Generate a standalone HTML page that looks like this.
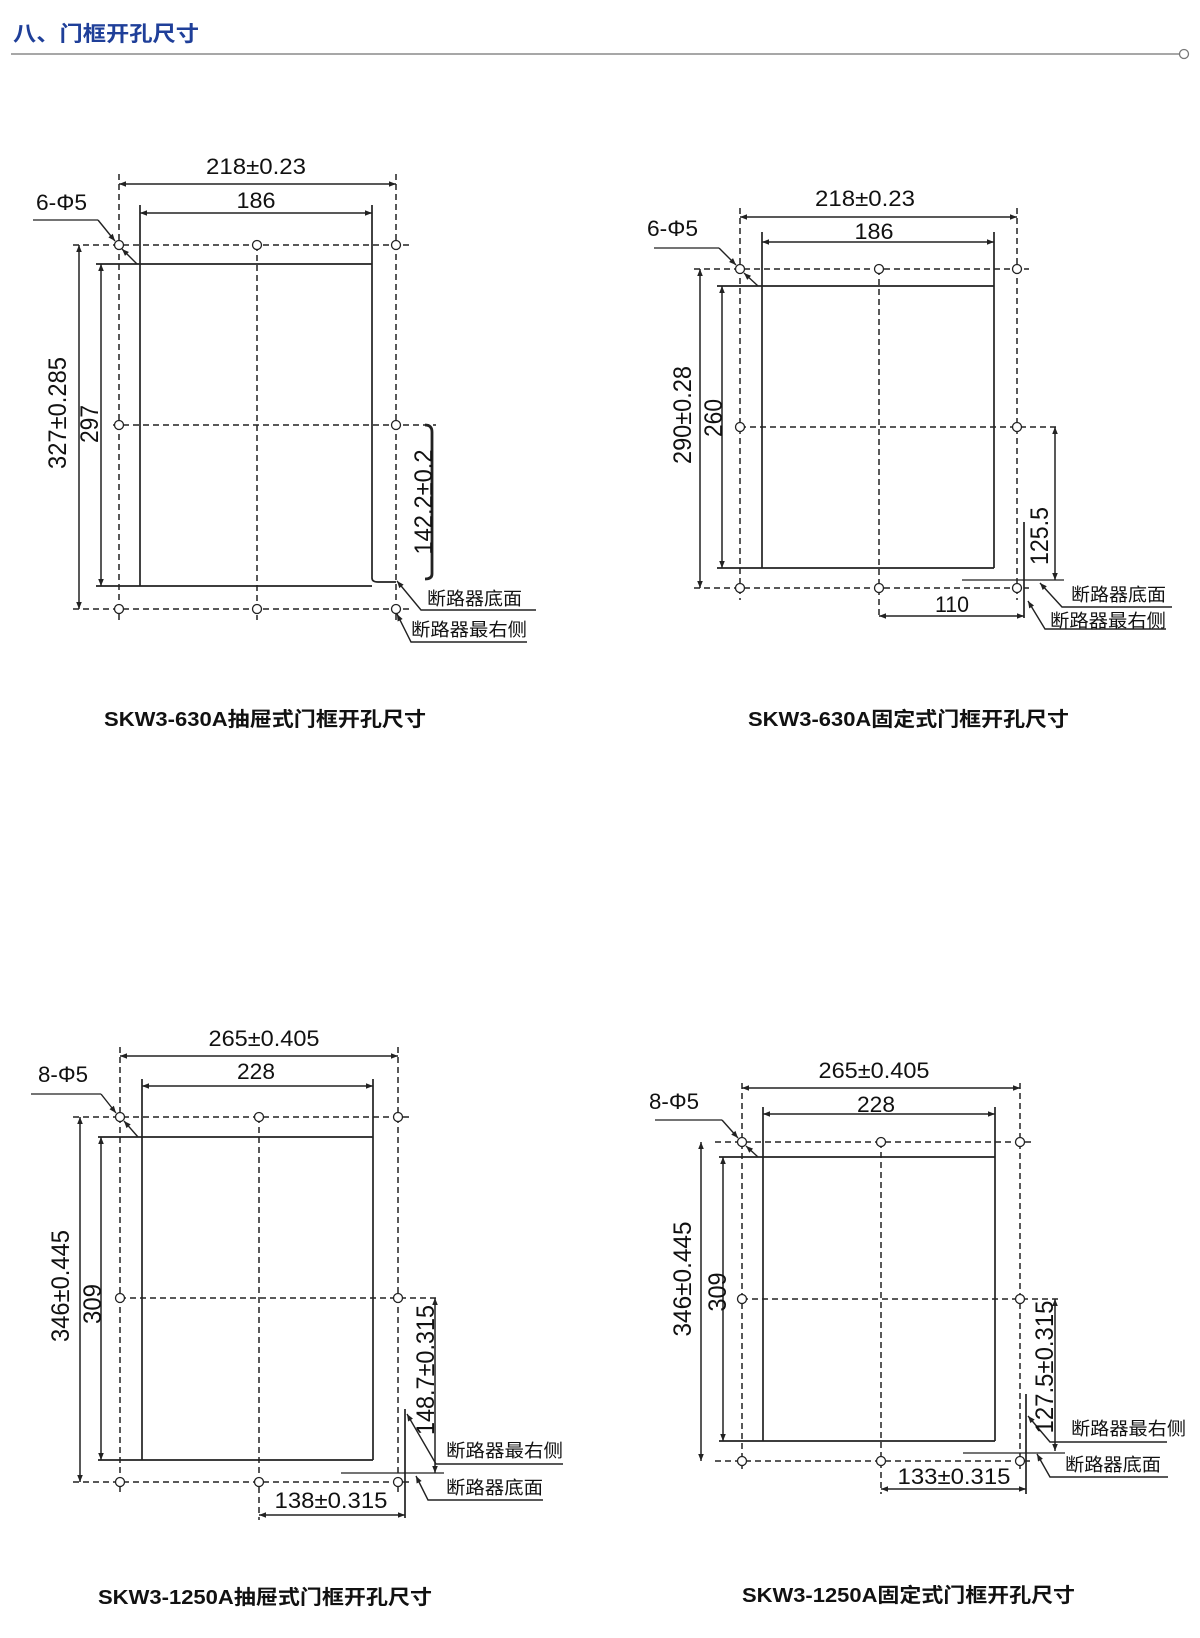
<!DOCTYPE html>
<html><head><meta charset="utf-8"><style>
html,body{margin:0;padding:0;background:#fff;}
svg{display:block;}
.d{stroke:#222;stroke-width:1.5;stroke-dasharray:6 4;fill:none;}
.s{stroke:#222;stroke-width:1.7;fill:none;}
.a{stroke:#222;stroke-width:1.5;fill:none;marker-start:url(#ar);marker-end:url(#ar);}
.e{stroke:#222;stroke-width:1.4;fill:none;marker-start:url(#ar);}
.h{stroke:#222;stroke-width:1.3;fill:#fff;}
text{font-family:"Liberation Sans","Noto Sans CJK SC",sans-serif;fill:#111;}
.n{font-size:22px;}
.v{font-size:25px;}
.c{font-size:18px;}
.b{font-size:20px;font-weight:bold;}
</style></head><body>
<svg width="1200" height="1638" viewBox="0 0 1200 1638" xmlns="http://www.w3.org/2000/svg">
<defs>
<marker id="ar" viewBox="0 0 10 10" refX="10" refY="5" markerWidth="9" markerHeight="7" orient="auto-start-reverse" markerUnits="userSpaceOnUse"><path d="M0,1 L10,5 L0,9 z" fill="#222"/></marker>
</defs>
<text x="13" y="41" font-size="21" font-weight="bold" style="fill:#1f3f99" textLength="186" lengthAdjust="spacingAndGlyphs">八、门框开孔尺寸</text>
<line x1="11" y1="54" x2="1180" y2="54" stroke="#8a8a8a" stroke-width="1.5"/>
<circle cx="1184" cy="54" r="4.5" fill="#fff" stroke="#777" stroke-width="1.3"/>

<g>
<line class="d" x1="73" y1="245" x2="413" y2="245"/>
<line class="d" x1="113" y1="425" x2="436" y2="425"/>
<line class="d" x1="73" y1="609" x2="413" y2="609"/>
<line class="d" x1="119" y1="174" x2="119" y2="620"/>
<line class="d" x1="396" y1="174" x2="396" y2="620"/>
<line class="d" x1="257" y1="245" x2="257" y2="620"/>
<line class="s" x1="140" y1="205" x2="140" y2="586"/>
<line class="s" x1="96" y1="264" x2="372" y2="264"/>
<line class="s" x1="96" y1="586" x2="372" y2="586"/>
<path class="s" d="M372,205 V578 Q372,582 378,582 H396"/>
<path d="M425,425 Q432,425 432,432 V574 Q432,579 425,579" stroke="#222" stroke-width="2.8" fill="none"/>
<line class="a" x1="119" y1="184" x2="396" y2="184"/>
<line class="a" x1="140" y1="213" x2="372" y2="213"/>
<line class="a" x1="79" y1="245" x2="79" y2="609"/>
<line class="a" x1="101" y1="264" x2="101" y2="586"/>
<g class="h"><circle cx="119" cy="245" r="4.5"/><circle cx="257" cy="245" r="4.5"/><circle cx="396" cy="245" r="4.5"/><circle cx="119" cy="425" r="4.5"/><circle cx="396" cy="425" r="4.5"/><circle cx="119" cy="609" r="4.5"/><circle cx="257" cy="609" r="4.5"/><circle cx="396" cy="609" r="4.5"/></g>
<polyline class="s" points="33,220 98,220" style="stroke-width:1.3"/>
<line class="e" x1="115" y1="241" x2="98" y2="220"/>
<line class="e" x1="122" y1="249" x2="137" y2="264"/>
<polyline class="e" points="397,581 421,610 536,610"/>
<polyline class="e" points="397,614 411,642 527,642"/>
<text class="n" x="256" y="174" text-anchor="middle" textLength="100" lengthAdjust="spacingAndGlyphs">218±0.23</text>
<text class="n" x="256" y="208" text-anchor="middle" textLength="39" lengthAdjust="spacingAndGlyphs">186</text>
<text class="n" x="36" y="210" textLength="51" lengthAdjust="spacingAndGlyphs">6-Φ5</text>
<text class="v" transform="translate(66,413) rotate(-90)" text-anchor="middle" textLength="112" lengthAdjust="spacingAndGlyphs">327±0.285</text>
<text class="v" transform="translate(98,424) rotate(-90)" text-anchor="middle" textLength="38" lengthAdjust="spacingAndGlyphs">297</text>
<text class="v" transform="translate(432,502) rotate(-90)" text-anchor="middle" textLength="105" lengthAdjust="spacingAndGlyphs">142.2±0.2</text>
<text class="c" x="427" y="605" textLength="95" lengthAdjust="spacingAndGlyphs">断路器底面</text>
<text class="c" x="411" y="636" textLength="116" lengthAdjust="spacingAndGlyphs">断路器最右侧</text>
<text class="b" x="104" y="726" textLength="322" lengthAdjust="spacingAndGlyphs">SKW3-630A抽屉式门框开孔尺寸</text>
</g>

<g>
<line class="d" x1="694" y1="269" x2="1029" y2="269"/>
<line class="d" x1="740" y1="427" x2="1060" y2="427"/>
<line class="d" x1="694" y1="588" x2="1029" y2="588"/>
<line class="d" x1="740" y1="208" x2="740" y2="600"/>
<line class="d" x1="1017" y1="208" x2="1017" y2="600"/>
<line class="d" x1="879" y1="269" x2="879" y2="616"/>
<line class="s" x1="762" y1="232" x2="762" y2="568"/>
<line class="s" x1="994" y1="232" x2="994" y2="568"/>
<line class="s" x1="717" y1="286" x2="994" y2="286"/>
<line class="s" x1="717" y1="568" x2="994" y2="568"/>
<line class="a" x1="740" y1="217" x2="1017" y2="217"/>
<line class="a" x1="762" y1="242" x2="994" y2="242"/>
<line class="a" x1="700" y1="269" x2="700" y2="588"/>
<line class="a" x1="722" y1="286" x2="722" y2="568"/>
<line class="a" x1="1055" y1="427" x2="1055" y2="580"/>
<line class="a" x1="879" y1="616" x2="1024" y2="616"/>
<line class="s" x1="1024" y1="522" x2="1024" y2="618"/>
<line class="s" x1="962" y1="580" x2="1064" y2="580" style="stroke-width:1.3"/>
<g class="h"><circle cx="740" cy="269" r="4.5"/><circle cx="879" cy="269" r="4.5"/><circle cx="1017" cy="269" r="4.5"/><circle cx="740" cy="427" r="4.5"/><circle cx="1017" cy="427" r="4.5"/><circle cx="740" cy="588" r="4.5"/><circle cx="879" cy="588" r="4.5"/><circle cx="1017" cy="588" r="4.5"/></g>
<line class="s" x1="654" y1="248" x2="719" y2="248" style="stroke-width:1.3"/>
<line class="e" x1="736" y1="265" x2="719" y2="248"/>
<line class="e" x1="744" y1="273" x2="758" y2="286"/>
<polyline class="e" points="1040,583 1062,607 1172,607"/>
<polyline class="e" points="1028,601 1045,629 1166,629"/>
<text class="n" x="865" y="206" text-anchor="middle" textLength="100" lengthAdjust="spacingAndGlyphs">218±0.23</text>
<text class="n" x="874" y="239" text-anchor="middle" textLength="39" lengthAdjust="spacingAndGlyphs">186</text>
<text class="n" x="952" y="612" text-anchor="middle" textLength="34" lengthAdjust="spacingAndGlyphs">110</text>
<text class="n" x="647" y="236" textLength="51" lengthAdjust="spacingAndGlyphs">6-Φ5</text>
<text class="v" transform="translate(691,415) rotate(-90)" text-anchor="middle" textLength="98" lengthAdjust="spacingAndGlyphs">290±0.28</text>
<text class="v" transform="translate(722,418) rotate(-90)" text-anchor="middle" textLength="38" lengthAdjust="spacingAndGlyphs">260</text>
<text class="v" transform="translate(1048,536) rotate(-90)" text-anchor="middle" textLength="58" lengthAdjust="spacingAndGlyphs">125.5</text>
<text class="c" x="1071" y="601" textLength="95" lengthAdjust="spacingAndGlyphs">断路器底面</text>
<text class="c" x="1050" y="627" textLength="116" lengthAdjust="spacingAndGlyphs">断路器最右侧</text>
<text class="b" x="748" y="726" textLength="321" lengthAdjust="spacingAndGlyphs">SKW3-630A固定式门框开孔尺寸</text>
</g>

<g>
<line class="d" x1="73" y1="1117" x2="410" y2="1117"/>
<line class="d" x1="120" y1="1298" x2="440" y2="1298"/>
<line class="d" x1="73" y1="1482" x2="410" y2="1482"/>
<line class="d" x1="120" y1="1047" x2="120" y2="1492"/>
<line class="d" x1="398" y1="1047" x2="398" y2="1492"/>
<line class="d" x1="259" y1="1117" x2="259" y2="1520"/>
<line class="s" x1="142" y1="1079" x2="142" y2="1460"/>
<line class="s" x1="373" y1="1079" x2="373" y2="1460"/>
<line class="s" x1="98" y1="1137" x2="373" y2="1137"/>
<line class="s" x1="98" y1="1460" x2="373" y2="1460"/>
<line class="a" x1="120" y1="1056" x2="398" y2="1056"/>
<line class="a" x1="142" y1="1086" x2="373" y2="1086"/>
<line class="a" x1="80" y1="1117" x2="80" y2="1482"/>
<line class="a" x1="101" y1="1137" x2="101" y2="1460"/>
<line class="a" x1="435" y1="1298" x2="435" y2="1473"/>
<line class="a" x1="259" y1="1515" x2="405" y2="1515"/>
<line class="s" x1="405" y1="1409" x2="405" y2="1518"/>
<line class="s" x1="341" y1="1473" x2="444" y2="1473" style="stroke-width:1.3"/>
<g class="h"><circle cx="120" cy="1117" r="4.5"/><circle cx="259" cy="1117" r="4.5"/><circle cx="398" cy="1117" r="4.5"/><circle cx="120" cy="1298" r="4.5"/><circle cx="398" cy="1298" r="4.5"/><circle cx="120" cy="1482" r="4.5"/><circle cx="259" cy="1482" r="4.5"/><circle cx="398" cy="1482" r="4.5"/></g>
<line class="s" x1="31" y1="1094" x2="101" y2="1094" style="stroke-width:1.3"/>
<line class="e" x1="116" y1="1113" x2="101" y2="1094"/>
<line class="e" x1="124" y1="1121" x2="138" y2="1137"/>
<polyline class="e" points="407,1414 436,1464 563,1464"/>
<polyline class="e" points="416,1476 428,1500 543,1500"/>
<text class="n" x="264" y="1046" text-anchor="middle" textLength="111" lengthAdjust="spacingAndGlyphs">265±0.405</text>
<text class="n" x="256" y="1079" text-anchor="middle" textLength="38" lengthAdjust="spacingAndGlyphs">228</text>
<text class="n" x="331" y="1508" text-anchor="middle" textLength="113" lengthAdjust="spacingAndGlyphs">138±0.315</text>
<text class="n" x="38" y="1082" textLength="50" lengthAdjust="spacingAndGlyphs">8-Φ5</text>
<text class="v" transform="translate(69,1286) rotate(-90)" text-anchor="middle" textLength="112" lengthAdjust="spacingAndGlyphs">346±0.445</text>
<text class="v" transform="translate(101,1304) rotate(-90)" text-anchor="middle" textLength="40" lengthAdjust="spacingAndGlyphs">309</text>
<text class="v" transform="translate(434,1370) rotate(-90)" text-anchor="middle" textLength="130" lengthAdjust="spacingAndGlyphs">148.7±0.315</text>
<text class="c" x="446" y="1457" textLength="117" lengthAdjust="spacingAndGlyphs">断路器最右侧</text>
<text class="c" x="446" y="1494" textLength="97" lengthAdjust="spacingAndGlyphs">断路器底面</text>
<text class="b" x="98" y="1604" textLength="334" lengthAdjust="spacingAndGlyphs">SKW3-1250A抽屉式门框开孔尺寸</text>
</g>

<g>
<line class="d" x1="715" y1="1142" x2="1032" y2="1142"/>
<line class="d" x1="742" y1="1299" x2="1061" y2="1299"/>
<line class="d" x1="715" y1="1461" x2="1030" y2="1461"/>
<line class="d" x1="742" y1="1083" x2="742" y2="1472"/>
<line class="d" x1="1020" y1="1083" x2="1020" y2="1472"/>
<line class="d" x1="881" y1="1142" x2="881" y2="1494"/>
<line class="s" x1="763" y1="1107" x2="763" y2="1441"/>
<line class="s" x1="995" y1="1107" x2="995" y2="1441"/>
<line class="s" x1="719" y1="1157" x2="995" y2="1157"/>
<line class="s" x1="719" y1="1441" x2="995" y2="1441"/>
<line class="a" x1="742" y1="1088" x2="1020" y2="1088"/>
<line class="a" x1="763" y1="1114" x2="995" y2="1114"/>
<line class="a" x1="701" y1="1142" x2="701" y2="1461"/>
<line class="a" x1="723" y1="1157" x2="723" y2="1441"/>
<line class="a" x1="1055" y1="1299" x2="1055" y2="1451"/>
<line class="a" x1="881" y1="1489" x2="1026" y2="1489"/>
<line class="s" x1="1026" y1="1394" x2="1026" y2="1494"/>
<line class="s" x1="963" y1="1453" x2="1065" y2="1453" style="stroke-width:1.3"/>
<g class="h"><circle cx="742" cy="1142" r="4.5"/><circle cx="881" cy="1142" r="4.5"/><circle cx="1020" cy="1142" r="4.5"/><circle cx="742" cy="1299" r="4.5"/><circle cx="1020" cy="1299" r="4.5"/><circle cx="742" cy="1461" r="4.5"/><circle cx="881" cy="1461" r="4.5"/><circle cx="1020" cy="1461" r="4.5"/></g>
<line class="s" x1="655" y1="1120" x2="722" y2="1120" style="stroke-width:1.3"/>
<line class="e" x1="738" y1="1138" x2="722" y2="1120"/>
<line class="e" x1="746" y1="1146" x2="758" y2="1157"/>
<polyline class="e" points="1028,1416 1050,1442 1167,1442"/>
<polyline class="e" points="1037,1454 1050,1477 1168,1477"/>
<text class="n" x="874" y="1078" text-anchor="middle" textLength="111" lengthAdjust="spacingAndGlyphs">265±0.405</text>
<text class="n" x="876" y="1112" text-anchor="middle" textLength="38" lengthAdjust="spacingAndGlyphs">228</text>
<text class="n" x="954" y="1484" text-anchor="middle" textLength="113" lengthAdjust="spacingAndGlyphs">133±0.315</text>
<text class="n" x="649" y="1109" textLength="50" lengthAdjust="spacingAndGlyphs">8-Φ5</text>
<text class="v" transform="translate(691,1279) rotate(-90)" text-anchor="middle" textLength="115" lengthAdjust="spacingAndGlyphs">346±0.445</text>
<text class="v" transform="translate(726,1292) rotate(-90)" text-anchor="middle" textLength="39" lengthAdjust="spacingAndGlyphs">309</text>
<text class="v" transform="translate(1053,1367) rotate(-90)" text-anchor="middle" textLength="133" lengthAdjust="spacingAndGlyphs">127.5±0.315</text>
<text class="c" x="1071" y="1435" textLength="115" lengthAdjust="spacingAndGlyphs">断路器最右侧</text>
<text class="c" x="1065" y="1471" textLength="96" lengthAdjust="spacingAndGlyphs">断路器底面</text>
<text class="b" x="742" y="1602" textLength="333" lengthAdjust="spacingAndGlyphs">SKW3-1250A固定式门框开孔尺寸</text>
</g>
</svg>
</body></html>
